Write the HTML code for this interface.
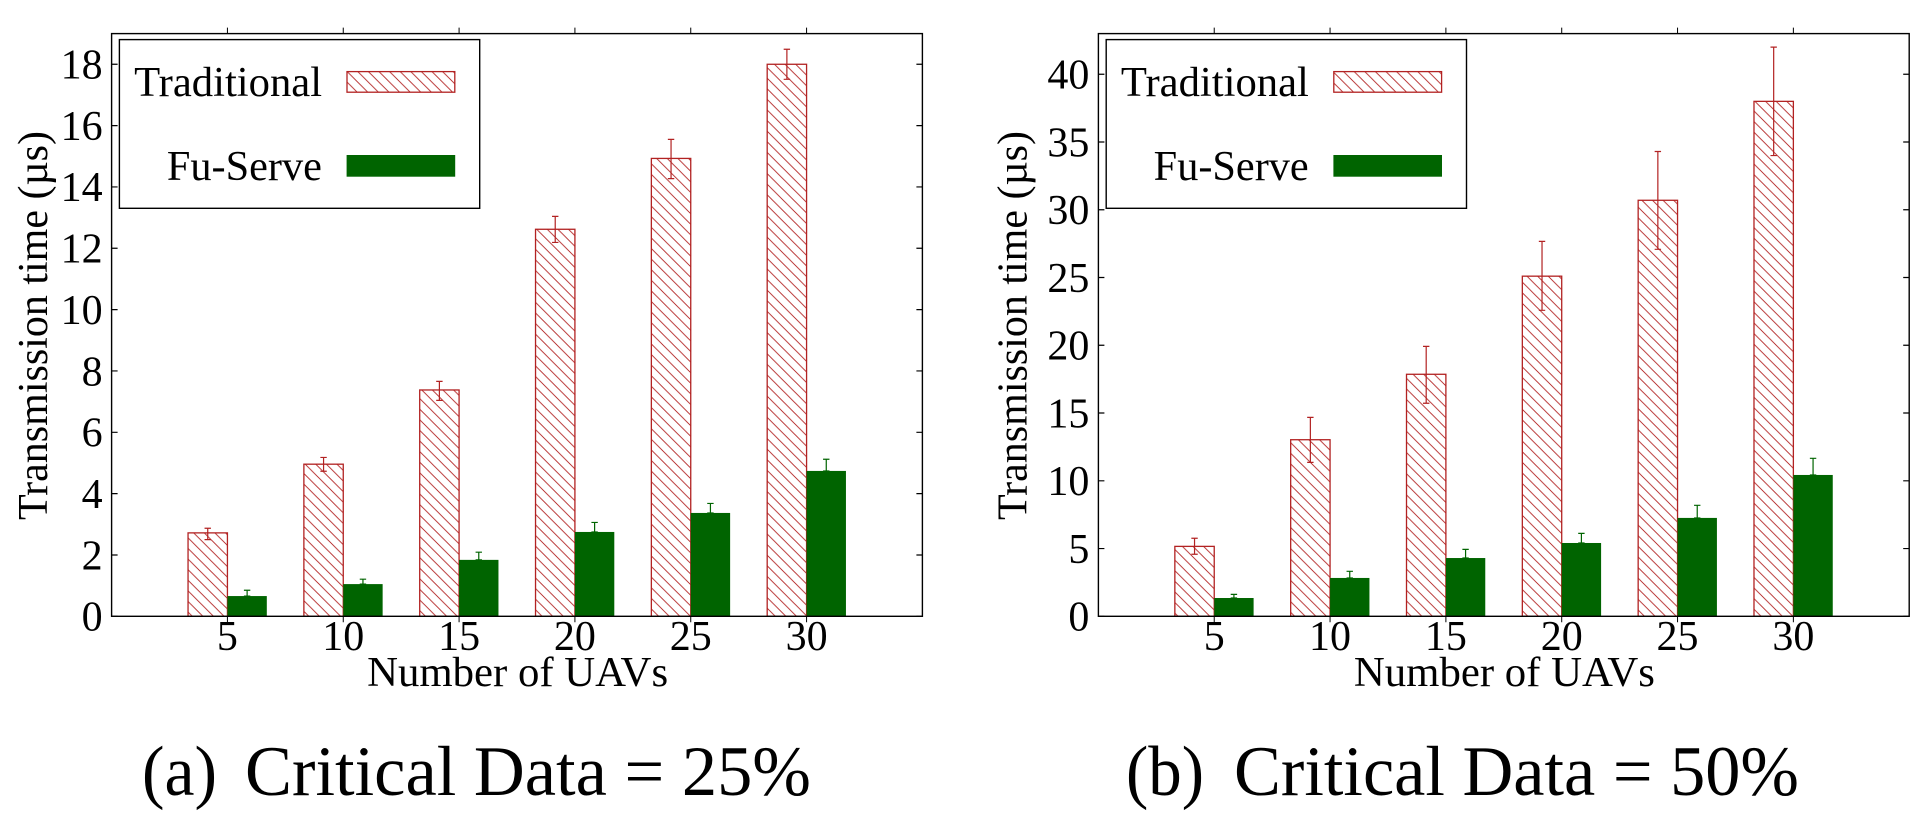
<!DOCTYPE html>
<html lang="en">
<head>
<meta charset="utf-8">
<title>Transmission time vs number of UAVs</title>
<style>
html,body{margin:0;padding:0;background:#fff;width:1932px;height:828px;overflow:hidden}
svg{display:block}
text{font-family:"Liberation Serif","Times New Roman",serif;fill:#000}
</style>
</head>
<body>
<svg id="figure" xmlns="http://www.w3.org/2000/svg" width="1932" height="828" viewBox="0 0 1932 828">
  <defs>
    <pattern id="hatch" patternUnits="userSpaceOnUse" width="10.6" height="10.6">
      <path d="M-1,-1 L11.6,11.6 M-1,9.6 L1,11.6 M9.6,-1 L11.6,1" stroke="#b22222" stroke-width="0.9" fill="none"/>
    </pattern>
  </defs>
  <rect x="0" y="0" width="1932" height="828" fill="#fff"/>
  <g id="chart-a"></g>
  <g id="chart-b"></g>

  <text x="142" y="795" font-size="71" textLength="75" lengthAdjust="spacingAndGlyphs">(a)</text>
  <text x="245" y="795" font-size="71" textLength="566" lengthAdjust="spacingAndGlyphs">Critical Data = 25%</text>
  <text x="1126" y="795" font-size="71" textLength="78" lengthAdjust="spacingAndGlyphs">(b)</text>
  <text x="1234" y="795" font-size="71" textLength="565" lengthAdjust="spacingAndGlyphs">Critical Data = 50%</text>
</svg>
<script>
var categories = [5, 10, 15, 20, 25, 30];

var ticksA = [0, 2, 4, 6, 8, 10, 12, 14, 16, 18];
var yMaxA = 19;
var traditionalA = [2.72, 4.96, 7.38, 12.62, 14.93, 18.0];
var traditionalUpperA = [2.87, 5.18, 7.66, 13.04, 15.55, 18.49];
var traditionalLowerA = [2.50, 4.73, 7.04, 12.19, 14.27, 17.51];
var fuServeA = [0.66, 1.05, 1.84, 2.75, 3.37, 4.74];
var fuServeUpperA = [0.85, 1.21, 2.09, 3.06, 3.68, 5.12];

var ticksB = [0, 5, 10, 15, 20, 25, 30, 35, 40];
var yMaxB = 43;
var traditionalB = [5.16, 13.03, 17.86, 25.1, 30.7, 38.0];
var traditionalUpperB = [5.76, 14.68, 19.92, 27.67, 34.3, 42.0];
var traditionalLowerB = [4.58, 11.36, 15.72, 22.58, 27.08, 34.0];
var fuServeB = [1.35, 2.83, 4.30, 5.41, 7.26, 10.43];
var fuServeUpperB = [1.62, 3.32, 4.94, 6.12, 8.19, 11.66];

var SVGNS = 'http://www.w3.org/2000/svg';
var RED = '#b22222';
var GREEN = '#006400';

function make(parent, tag, attrs, txt) {
  var el = document.createElementNS(SVGNS, tag);
  for (var k in attrs) { el.setAttribute(k, attrs[k]); }
  if (txt !== undefined) { el.textContent = txt; }
  parent.appendChild(el);
  return el;
}

function drawPanel(groupId, left, titleGap, yMax, ticks, trad, tradUp, tradLow, fu, fuUp) {
  var g = document.getElementById(groupId);
  var right = left + 810.8;
  var top = 33.6;
  var bottom = 616.3;
  var unit = (right - left) / (categories.length + 1);
  var barW = unit * 0.34;
  function xAxis(i) { return left + (i + 1) * unit; }
  function yAxis(v) { return bottom - (v / yMax) * (bottom - top); }
  var el;

  function errorBar(cx, hi, lo, color, name) {
    var p = 'M' + (cx - 3.2) + ',' + yAxis(hi) + 'H' + (cx + 3.2) +
            'M' + cx + ',' + yAxis(hi) + 'V' + yAxis(lo) +
            'M' + (cx - 3.2) + ',' + yAxis(lo) + 'H' + (cx + 3.2);
    var e = make(g, 'path', { d: p, stroke: color, 'stroke-width': 1.2, fill: 'none' });
    
    
  }

  categories.forEach(function (c, i) {
    var cx = xAxis(i);
    var yt = yAxis(trad[i]);
    el = make(g, 'rect', { x: cx - barW, y: yt, width: barW, height: bottom - yt, fill: 'url(#hatch)', stroke: RED, 'stroke-width': 1.3 });
    
    
    errorBar(cx - barW / 2, tradUp[i], tradLow[i], RED, 'error-bar-traditional-' + c);

    var yf = yAxis(fu[i]);
    el = make(g, 'rect', { x: cx, y: yf, width: barW, height: bottom - yf, fill: GREEN });
    
    
    errorBar(cx + barW / 2, fuUp[i], fu[i], GREEN, 'error-bar-fu-serve-' + c);
  });

  el = make(g, 'rect', { x: left, y: top, width: right - left, height: bottom - top, fill: 'none', stroke: '#000', 'stroke-width': 1.4 });
  
  

  categories.forEach(function (c, i) {
    var cx = xAxis(i);
    el = make(g, 'path', { d: 'M' + cx + ',' + top + 'v-6M' + cx + ',' + bottom + 'v6', stroke: '#000', 'stroke-width': 1 });
    
    
    el = make(g, 'text', { x: cx, y: 650, 'font-size': 42, 'text-anchor': 'middle' }, String(c));
    
    
  });

  ticks.forEach(function (t) {
    var y = yAxis(t);
    el = make(g, 'path', { d: 'M' + left + ',' + y + 'h6M' + right + ',' + y + 'h-6', stroke: '#000', 'stroke-width': 1.2 });
    
    
    el = make(g, 'text', { x: left - 9, y: y + 14.3, 'font-size': 42, 'text-anchor': 'end' }, String(t));
    
    
  });

  el = make(g, 'text', { x: left + 255.5, y: 686, 'font-size': 42, textLength: 301, lengthAdjust: 'spacingAndGlyphs' }, 'Number of UAVs');
  
  

  var ylx = left - titleGap;
  el = make(g, 'text', { x: 0, y: 0, 'font-size': 42, textLength: 389, lengthAdjust: 'spacingAndGlyphs', transform: 'translate(' + ylx + ',520) rotate(-90)' }, 'Transmission time (\u00b5s)');
  
  

  var lg = make(g, 'g', {});
  
  
  el = make(lg, 'rect', { x: left + 7.8, y: 39.6, width: 360.3, height: 168.7, fill: '#fff', stroke: '#000', 'stroke-width': 1.4 });
  
  
  el = make(lg, 'text', { x: left + 22.5, y: 96, 'font-size': 42, textLength: 188, lengthAdjust: 'spacingAndGlyphs' }, 'Traditional');
  
  
  el = make(lg, 'text', { x: left + 55.3, y: 180, 'font-size': 42, textLength: 155, lengthAdjust: 'spacingAndGlyphs' }, 'Fu-Serve');
  
  
  el = make(lg, 'rect', { x: left + 235.4, y: 71.6, width: 107.8, height: 20.6, fill: 'url(#hatch)', stroke: RED, 'stroke-width': 1.3 });
  
  
  el = make(lg, 'rect', { x: left + 235, y: 155, width: 108.6, height: 21.7, fill: GREEN });
  
  
}

drawPanel('chart-a', 111.6, 64.5, yMaxA, ticksA, traditionalA, traditionalUpperA, traditionalLowerA, fuServeA, fuServeUpperA);
drawPanel('chart-b', 1098.4, 72, yMaxB, ticksB, traditionalB, traditionalUpperB, traditionalLowerB, fuServeB, fuServeUpperB);
</script>
</body>
</html>
